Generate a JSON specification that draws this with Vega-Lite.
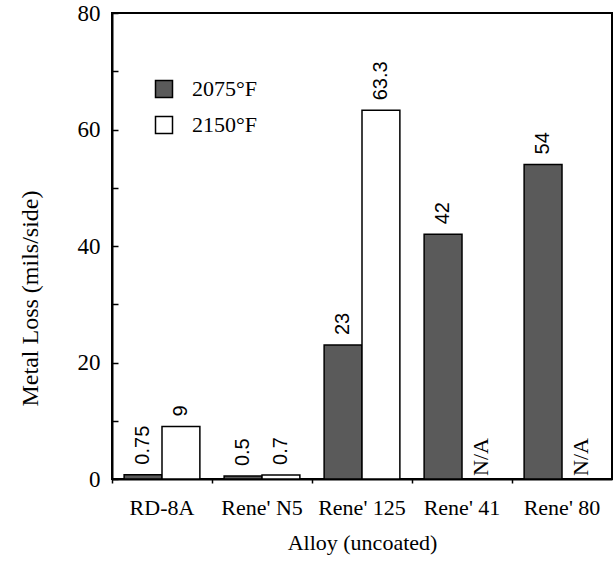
{
  "$schema": "https://vega.github.io/schema/vega-lite/v6.json",
  "width": 500,
  "height": 466,
  "autosize": "none",
  "padding": {"left": 112, "top": 13, "right": 4, "bottom": 91},
  "background": "white",
  "config": {
    "view": {"stroke": "black", "strokeWidth": 2},
    "axis": {
      "domainColor": "black", "domainWidth": 2, "tickColor": "black", "tickWidth": 1.5,
      "labelColor": "black", "titleColor": "black", "grid": false,
      "labelFont": "Liberation Serif", "titleFont": "Liberation Serif",
      "labelFontSize": 22, "titleFontSize": 22, "titleFontWeight": "normal"
    },
    "legend": {
      "labelFont": "Liberation Serif", "labelFontSize": 22, "labelColor": "black"
    }
  },
  "data": {
    "values": [
      {"alloy": "RD-8A", "temp": "2075°F", "loss": 0.75, "label": "0.75"},
      {"alloy": "RD-8A", "temp": "2150°F", "loss": 9, "label": "9"},
      {"alloy": "Rene' N5", "temp": "2075°F", "loss": 0.5, "label": "0.5"},
      {"alloy": "Rene' N5", "temp": "2150°F", "loss": 0.7, "label": "0.7"},
      {"alloy": "Rene' 125", "temp": "2075°F", "loss": 23, "label": "23"},
      {"alloy": "Rene' 125", "temp": "2150°F", "loss": 63.3, "label": "63.3"},
      {"alloy": "Rene' 41", "temp": "2075°F", "loss": 42, "label": "42"},
      {"alloy": "Rene' 41", "temp": "2150°F", "loss": null, "label": "N/A"},
      {"alloy": "Rene' 80", "temp": "2075°F", "loss": 54, "label": "54"},
      {"alloy": "Rene' 80", "temp": "2150°F", "loss": null, "label": "N/A"}
    ]
  },
  "encoding": {
    "x": {
      "field": "alloy", "type": "nominal", "sort": null,
      "scale": {"paddingInner": 0, "paddingOuter": 0},
      "axis": {"title": "Alloy (uncoated)", "labelAngle": 0, "tickSize": 4, "bandPosition": 0, "labelPadding": 14, "titlePadding": 14}
    },
    "xOffset": {
      "field": "temp", "type": "nominal", "sort": null,
      "scale": {"paddingInner": 0, "paddingOuter": 0.32}
    }
  },
  "layer": [
    {
      "mark": {"type": "bar", "stroke": "black", "strokeWidth": 1.5},
      "encoding": {
        "y": {
          "field": "loss", "type": "quantitative",
          "scale": {"domain": [0, 80], "nice": false},
          "axis": {
            "title": "Metal Loss (mils/side)",
            "values": [0, 10, 20, 30, 40, 50, 60, 70, 80],
            "labelExpr": "datum.value % 20 === 0 ? datum.label : ''",
            "labelFontSize": 23, "titleFontSize": 24,
            "tickSize": -6, "labelPadding": 18, "titleX": -70, "titleY": 285
          }
        },
        "fill": {
          "field": "temp", "type": "nominal", "sort": null,
          "scale": {"domain": ["2075°F", "2150°F"], "range": ["#5a5a5a", "#ffffff"]},
          "legend": {
            "title": null, "orient": "none", "legendX": 41, "legendY": 65,
            "symbolType": "square", "symbolSize": 289, "symbolStrokeColor": "black",
            "symbolStrokeWidth": 1.5, "labelOffset": 17, "rowPadding": 12, "padding": 0
          }
        }
      }
    },
    {
      "transform": [{"filter": "datum.loss != null"}],
      "mark": {"type": "text", "angle": 270, "align": "left", "baseline": "middle", "dx": 10, "font": "Liberation Sans", "fontSize": 20, "color": "black"},
      "encoding": {
        "y": {"field": "loss", "type": "quantitative"},
        "text": {"field": "label"}
      }
    },
    {
      "transform": [{"filter": "datum.loss == null"}],
      "mark": {"type": "text", "angle": 270, "align": "left", "baseline": "middle", "dx": 3, "font": "Liberation Serif", "fontSize": 22, "color": "black"},
      "encoding": {
        "y": {"datum": 0},
        "text": {"field": "label"}
      }
    }
  ]
}
